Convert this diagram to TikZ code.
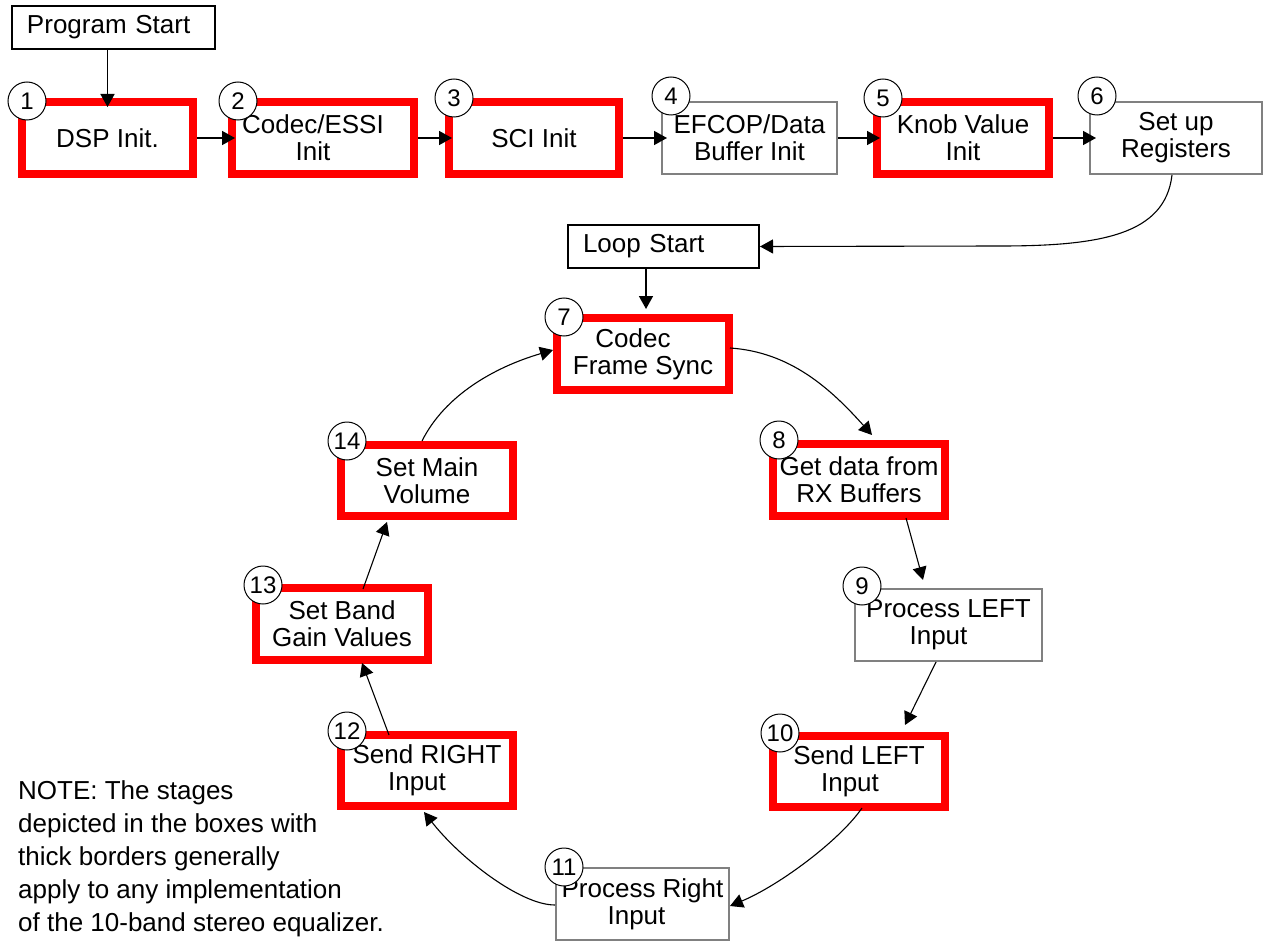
\documentclass[tikz,border=0pt]{standalone}
\usepackage{fontspec}
\setmainfont{Liberation Sans}
\usetikzlibrary{arrows.meta}
\definecolor{boxgray}{RGB}{128,128,128}
\definecolor{boxred}{RGB}{255,0,0}
\newcommand\myboxfont{\fontsize{26}{27}\selectfont}
\newcommand\mynumfont{\fontsize{24}{24}\selectfont}
\newcommand\mynotefont{\fontsize{26}{33}\selectfont}
\begin{document}
\begin{tikzpicture}[x=1pt,y=-1pt,
  redbox/.style={draw=boxred, line width=8pt, fill=white, inner sep=0pt, minimum width=172pt, minimum height=72pt, align=center, font=\myboxfont},
  graybox/.style={draw=boxgray, line width=2pt, fill=white, inner sep=0pt, minimum height=72pt, align=center, font=\myboxfont},
  startbox/.style={draw=black, line width=2pt, fill=white, inner ysep=0pt, inner xsep=15pt, minimum height=43pt, align=left, font=\myboxfont},
  numcirc/.style={circle, draw=black, line width=1pt, fill=white, minimum size=38pt, inner sep=0pt, font=\mynumfont},
  arr/.style={-{Triangle[length=13pt,width=14pt]}, line width=1.6pt},
  carr/.style={-{Triangle[length=13pt,width=14pt]}, line width=1.1pt},
]
\useasboundingbox[fill=white] (0,0) rectangle (1265,941);

% start boxes
\node[startbox, text width=173pt] (ps) at (113.5,27.5) {Program Start};
\node[startbox, text width=161pt] (ls) at (663.5,246.5) {Loop Start};

% top row
\node[redbox, minimum width=171pt] (b1) at (107.5,138) {DSP Init.};
\node[redbox, minimum width=182pt] (b2) at (323,138) {Codec/ESSI\kern20pt\\Init\kern20pt};
\node[redbox, minimum width=170pt] (b3) at (534,138) {SCI Init};
\node[graybox, minimum width=175pt] (b4) at (749.5,138) {EFCOP/Data\\Buffer Init};
\node[redbox] (b5) at (963,138) {Knob Value\\Init};
\node[graybox, minimum width=172pt] (b6) at (1176,138) {Set up\\Registers};

% loop
\node[redbox] (b7) at (643,354) {Codec\kern20pt\\Frame Sync};
\node[redbox] (b8) at (859,480) {Get data from\\RX Buffers};
\node[graybox, minimum width=187pt] (b9) at (948.5,625) {Process LEFT\\Input\kern20pt};
\node[redbox, minimum height=71pt] (b10) at (859,771.5) {Send LEFT\\Input\kern18pt};
\node[graybox, minimum width=173pt] (b11) at (642.5,904) {Process Right\\Input\kern12pt};
\node[redbox, minimum height=71pt] (b12) at (427,770.5) {Send RIGHT\\Input\kern20pt};
\node[redbox] (b13) at (342,624) {Set Band\\Gain Values};
\node[redbox, minimum height=71pt] (b14) at (427,480.5) {Set Main\\Volume};

% note
\node[anchor=north west, align=left, inner sep=0pt, font=\mynotefont] (note) at (18,780)
  {NOTE: The stages\\depicted in the boxes with\\thick borders generally\\apply to any implementation\\of the 10-band stereo equalizer.};

% connectors
\draw[arr] (b1.north |- ps.south) -- ([yshift=-9pt]b1.north);
\draw[arr] (b1.east) -- ([xshift=7pt]b2.west);
\draw[arr] (b2.east) -- ([xshift=7pt]b3.west);
\draw[arr] (b3.east) -- ([xshift=6pt]b4.west);
\draw[arr] (b4.east) -- ([xshift=7pt]b5.west);
\draw[arr] (b5.east) -- ([xshift=7pt]b6.west);
\draw[carr] ([xshift=-4pt]b6.south) .. controls (1165,235) and (1100,246) .. (1000,246) -- (ls.east);
\draw[arr] ([xshift=-17.5pt]ls.south) -- ([xshift=3pt,yshift=5pt]b7.north);
\draw[carr] ([xshift=-3pt,yshift=6pt]b7.east) .. controls (790,352) and (830,388) .. ([xshift=13pt,yshift=5pt]b8.north);
\draw[carr] ([xshift=47pt,yshift=2pt]b8.south) -- ([xshift=-25.5pt,yshift=8pt]b9.north);
\draw[carr] ([xshift=-12.5pt]b9.south) -- ([xshift=46pt,yshift=7pt]b10.north);
\draw[carr] ([xshift=3pt,yshift=3pt]b10.south) .. controls (840,840) and (780,885) .. ([yshift=-2pt]b11.east);
\draw[carr] ([yshift=-1pt]b11.west) .. controls (520,905) and (460,858) .. ([xshift=-3pt,yshift=-2pt]b12.south);
\draw[carr] ([xshift=-38pt,yshift=-4pt]b12.north) -- ([xshift=20pt,yshift=1pt]b13.south);
\draw[carr] ([xshift=21pt,yshift=-5pt]b13.north) -- ([xshift=-40pt,yshift=-2pt]b14.south);
\draw[carr] ([xshift=-5pt]b14.north) .. controls (445,395) and (495,367) .. ([yshift=4pt]b7.west);

% number circles
\node[numcirc] (c1) at (27,101) {1};
\node[numcirc] (c2) at (238,101) {2};
\node[numcirc] (c3) at (454,98) {3};
\node[numcirc] (c4) at (671,96) {4};
\node[numcirc] (c5) at (883,98) {5};
\node[numcirc] (c6) at (1097,96) {6};
\node[numcirc] (c7) at (564,317) {7};
\node[numcirc] (c8) at (779,440) {8};
\node[numcirc] (c9) at (862,586) {9};
\node[numcirc] (c10) at (780,733) {10};
\node[numcirc] (c11) at (564,867) {11};
\node[numcirc] (c12) at (347,731) {12};
\node[numcirc] (c13) at (263,585) {13};
\node[numcirc] (c14) at (347,441) {14};
\end{tikzpicture}
\end{document}
